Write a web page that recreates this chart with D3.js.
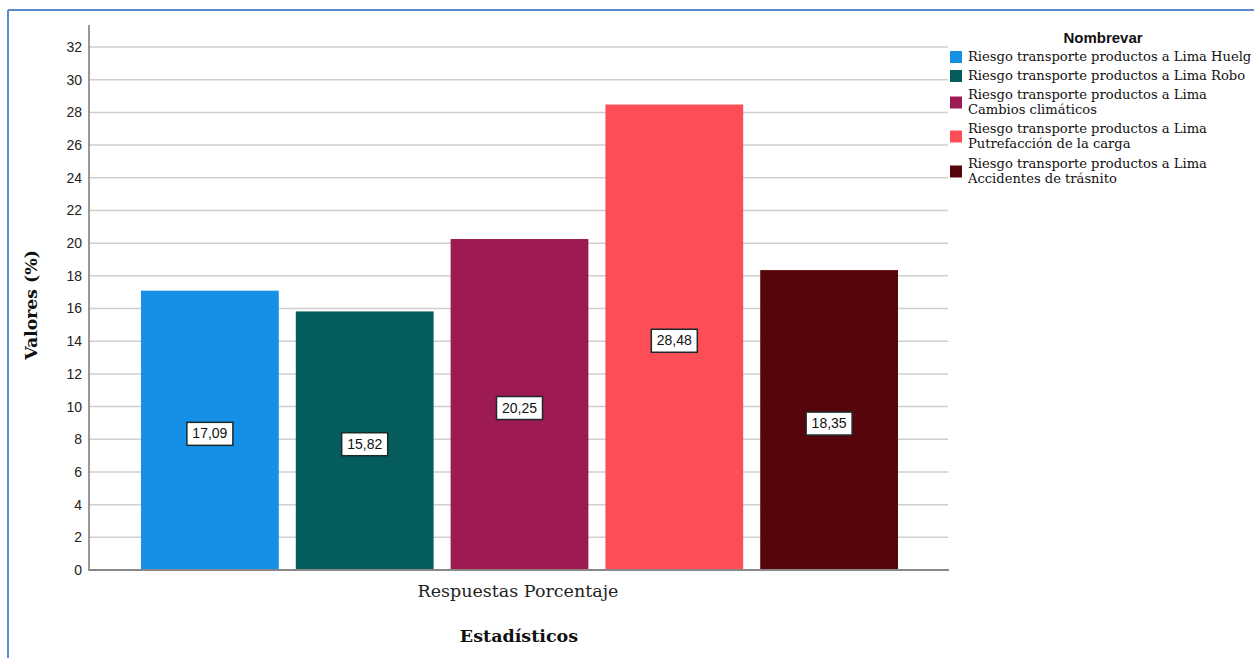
<!DOCTYPE html>
<html>
<head>
<meta charset="utf-8">
<script src="https://cdn.jsdelivr.net/npm/d3@7"></script>
<style>
  html, body { margin: 0; padding: 0; background: #fff; }
  svg { display: block; }
</style>
</head>
<body>
<svg id="chart" width="1254" height="658"></svg>
<script>
// Categories and values (percent)
const categories = [
  "Riesgo transporte productos a Lima Huelg",
  "Riesgo transporte productos a Lima Robo",
  "Riesgo transporte productos a Lima Cambios climáticos",
  "Riesgo transporte productos a Lima Putrefacción de la carga",
  "Riesgo transporte productos a Lima Accidentes de trásnito"
];
const values = [17.09, 15.82, 20.25, 28.48, 18.35];
const legendLines = [
  ["Riesgo transporte productos a Lima Huelg"],
  ["Riesgo transporte productos a Lima Robo"],
  ["Riesgo transporte productos a Lima", "Cambios climáticos"],
  ["Riesgo transporte productos a Lima", "Putrefacción de la carga"],
  ["Riesgo transporte productos a Lima", "Accidentes de trásnito"]
];
const colors = ["#1590e6", "#045c5c", "#9e1a52", "#fd4e58", "#56050a"];
const yTicks = d3.range(0, 33, 2);

const serif = "DejaVu Serif, Liberation Serif, serif";
const sans = "Liberation Sans, Arial, sans-serif";

const svg = d3.select("#chart");

// Frame
svg.append("line").attr("x1", 8).attr("x2", 1254).attr("y1", 10).attr("y2", 10)
  .attr("stroke", "#5b8bd0").attr("stroke-width", 2);
svg.append("line").attr("x1", 8).attr("x2", 8).attr("y1", 10).attr("y2", 658)
  .attr("stroke", "#5b8bd0").attr("stroke-width", 2);

const plotLeft = 89, plotRight = 948, plotBottom = 570, plotTop = 25;
const y = d3.scaleLinear().domain([0, 32]).range([plotBottom, 47]);
const x = d3.scaleBand().domain(categories).range([141, 898]).paddingInner(0.11).paddingOuter(0);

// Gridlines
svg.append("g").selectAll("line").data(yTicks.filter(d => d > 0)).join("line")
  .attr("x1", plotLeft).attr("x2", plotRight)
  .attr("y1", d => y(d)).attr("y2", d => y(d))
  .attr("stroke", "#cfcfcf").attr("stroke-width", 1.5);

// Bars
svg.append("g").selectAll("rect").data(values).join("rect")
  .attr("x", (d, i) => x(categories[i]))
  .attr("y", d => y(d))
  .attr("width", x.bandwidth())
  .attr("height", d => plotBottom - y(d))
  .attr("fill", (d, i) => colors[i]);

// Y axis
const yAxis = d3.axisLeft(y).tickValues(yTicks).tickSize(0).tickPadding(7);
const gy = svg.append("g").attr("transform", `translate(${plotLeft},0)`).call(yAxis);
gy.select(".domain").remove();
gy.selectAll("text").attr("font-family", sans)
  .attr("font-size", 14).attr("fill", "#222");
svg.append("line").attr("x1", plotLeft).attr("x2", plotLeft).attr("y1", plotTop).attr("y2", plotBottom + 1)
  .attr("stroke", "#777").attr("stroke-width", 1.5);
svg.append("line").attr("x1", plotLeft).attr("x2", plotRight + 1).attr("y1", plotBottom).attr("y2", plotBottom)
  .attr("stroke", "#888").attr("stroke-width", 2);

// Value labels
const fmt = v => v.toFixed(2).replace(".", ",");
const lab = svg.append("g").selectAll("g").data(values).join("g")
  .attr("transform", (d, i) => `translate(${x(categories[i]) + x.bandwidth() / 2},${y(d / 2) + 3})`);
lab.append("rect").attr("x", -23).attr("y", -11).attr("width", 46).attr("height", 23)
  .attr("fill", "#fff").attr("stroke", "#1a2a2a").attr("stroke-width", 1.5);
lab.append("text").attr("text-anchor", "middle").attr("dy", "0.36em")
  .attr("font-family", sans).attr("font-size", 14)
  .attr("fill", "#111").text(fmt);

// Axis titles
svg.append("text").attr("x", 518).attr("y", 597).attr("text-anchor", "middle")
  .attr("font-family", serif).attr("font-size", 17.5)
  .attr("fill", "#222").text("Respuestas Porcentaje");
svg.append("text").attr("x", 519).attr("y", 642).attr("text-anchor", "middle")
  .attr("font-family", serif).attr("font-size", 17.5)
  .attr("font-weight", "bold").attr("fill", "#111").text("Estadísticos");
svg.append("text").attr("transform", "translate(37,305) rotate(-90)").attr("text-anchor", "middle")
  .attr("font-family", serif).attr("font-size", 17.3)
  .attr("font-weight", "bold").attr("fill", "#111").text("Valores (%)");

// Legend
svg.append("text").attr("x", 1103).attr("y", 43).attr("text-anchor", "middle")
  .attr("font-family", sans).attr("font-size", 15)
  .attr("font-weight", "bold").attr("fill", "#111").text("Nombrevar");
const lineY = [[57], [76], [95, 110], [129, 144], [164, 179]];
const lg = svg.append("g").selectAll("g").data(legendLines).join("g");
lg.append("rect").attr("x", 950).attr("width", 12).attr("height", 12)
  .attr("y", (d, i) => d3.mean(lineY[i]) - 6)
  .attr("fill", (d, i) => colors[i]);
lg.each(function (lines, i) {
  d3.select(this).selectAll("text").data(lines).join("text")
    .attr("x", 968).attr("y", (t, j) => lineY[i][j] + 4)
    .attr("font-family", serif).attr("font-size", 13.1)
    .attr("fill", "#111").text(t => t);
});
</script>
</body>
</html>
